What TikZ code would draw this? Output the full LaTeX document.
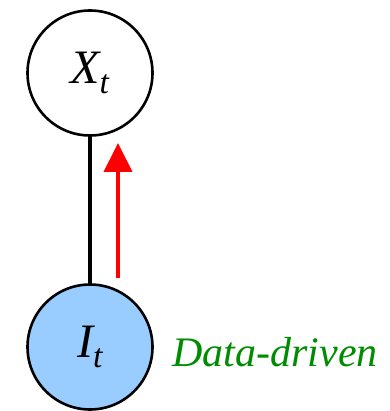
\documentclass[tikz,border=0pt]{standalone}
\usepackage{fontspec}
\setmainfont{Liberation Serif}
\usepackage{tikz}
\usetikzlibrary{arrows.meta,positioning}
\definecolor{obsblue}{RGB}{153,204,255}
\definecolor{ddgreen}{RGB}{0,140,0}

\begin{document}
\begin{tikzpicture}[x=1pt,y=1pt,>={Triangle[length=29pt,width=28pt]},
  var/.style={circle,draw,line width=2.6pt,minimum size=125pt,inner sep=0pt,
    font=\fontsize{48}{48}\selectfont\itshape}]
  \useasboundingbox (0,0) rectangle (389,-411);
  \node[var] (X) at (90,-73) {X\textsubscript{t}};
  \node[var,fill=obsblue] (I) at (90,-347) {I\textsubscript{t}};
  \draw[line width=4pt] (X.south) -- (I.north);
  \coordinate (tail) at (118,-278);
  \coordinate (tip) at (118,-143);
  \draw[red,line width=4pt,->] (tail) -- (tip);
  \node[anchor=west,text=ddgreen,font=\fontsize{42}{42}\selectfont\itshape] (dd) at (169,-352) {Data-driven};
\end{tikzpicture}
\end{document}
